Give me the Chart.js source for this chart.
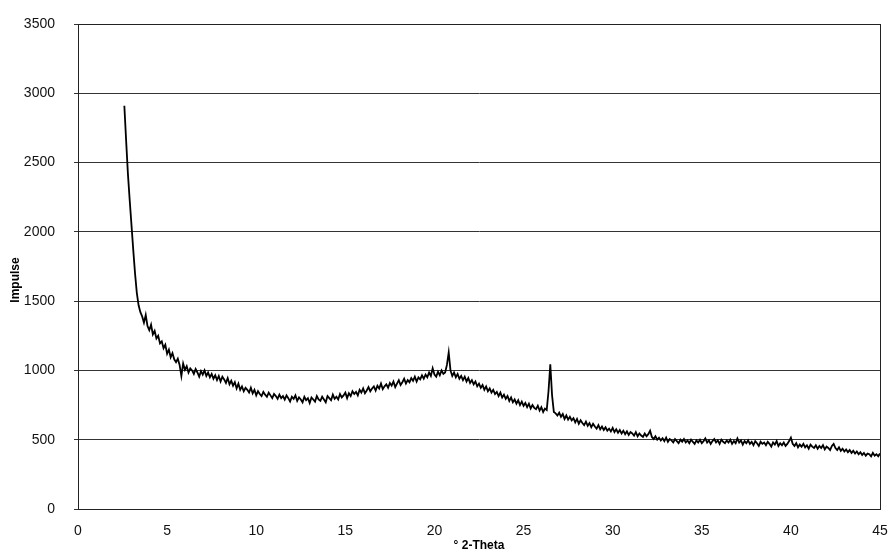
<!DOCTYPE html>
<html>
<head>
<meta charset="utf-8">
<script src="https://cdn.jsdelivr.net/npm/chart.js@4.4.1/dist/chart.umd.min.js"></script>
<style>
  html, body { margin: 0; padding: 0; background: #fff; }
  #wrap { width: 892px; height: 554px; }
</style>
</head>
<body>
<div id="wrap"><canvas id="myChart" width="892" height="554"></canvas></div>
<script>
// 2-theta positions (degrees)
const twoTheta = [
  2.6, 2.7, 2.8, 2.9, 3.0, 3.1, 3.2, 3.3, 3.4, 3.5,
  3.6, 3.7, 3.8, 3.9, 4.0, 4.1, 4.2, 4.3, 4.4, 4.5,
  4.6, 4.7, 4.8, 4.9, 5.0, 5.1, 5.2, 5.3, 5.4, 5.5,
  5.6, 5.7, 5.8, 5.9, 6.0, 6.1, 6.2, 6.3, 6.4, 6.5,
  6.6, 6.7, 6.8, 6.9, 7.0, 7.1, 7.2, 7.3, 7.4, 7.5,
  7.6, 7.7, 7.8, 7.9, 8.0, 8.1, 8.2, 8.3, 8.4, 8.5,
  8.6, 8.7, 8.8, 8.9, 9.0, 9.1, 9.2, 9.3, 9.4, 9.5,
  9.6, 9.7, 9.8, 9.9, 10.0, 10.1, 10.2, 10.3, 10.4, 10.5,
  10.6, 10.7, 10.8, 10.9, 11.0, 11.1, 11.2, 11.3, 11.4, 11.5,
  11.6, 11.7, 11.8, 11.9, 12.0, 12.1, 12.2, 12.3, 12.4, 12.5,
  12.6, 12.7, 12.8, 12.9, 13.0, 13.1, 13.2, 13.3, 13.4, 13.5,
  13.6, 13.7, 13.8, 13.9, 14.0, 14.1, 14.2, 14.3, 14.4, 14.5,
  14.6, 14.7, 14.8, 14.9, 15.0, 15.1, 15.2, 15.3, 15.4, 15.5,
  15.6, 15.7, 15.8, 15.9, 16.0, 16.1, 16.2, 16.3, 16.4, 16.5,
  16.6, 16.7, 16.8, 16.9, 17.0, 17.1, 17.2, 17.3, 17.4, 17.5,
  17.6, 17.7, 17.8, 17.9, 18.0, 18.1, 18.2, 18.3, 18.4, 18.5,
  18.6, 18.7, 18.8, 18.9, 19.0, 19.1, 19.2, 19.3, 19.4, 19.5,
  19.6, 19.7, 19.8, 19.9, 20.0, 20.1, 20.2, 20.3, 20.4, 20.5,
  20.6, 20.7, 20.8, 20.9, 21.0, 21.1, 21.2, 21.3, 21.4, 21.5,
  21.6, 21.7, 21.8, 21.9, 22.0, 22.1, 22.2, 22.3, 22.4, 22.5,
  22.6, 22.7, 22.8, 22.9, 23.0, 23.1, 23.2, 23.3, 23.4, 23.5,
  23.6, 23.7, 23.8, 23.9, 24.0, 24.1, 24.2, 24.3, 24.4, 24.5,
  24.6, 24.7, 24.8, 24.9, 25.0, 25.1, 25.2, 25.3, 25.4, 25.5,
  25.6, 25.7, 25.8, 25.9, 26.0, 26.1, 26.2, 26.3, 26.4, 26.5,
  26.6, 26.7, 26.8, 26.9, 27.0, 27.1, 27.2, 27.3, 27.4, 27.5,
  27.6, 27.7, 27.8, 27.9, 28.0, 28.1, 28.2, 28.3, 28.4, 28.5,
  28.6, 28.7, 28.8, 28.9, 29.0, 29.1, 29.2, 29.3, 29.4, 29.5,
  29.6, 29.7, 29.8, 29.9, 30.0, 30.1, 30.2, 30.3, 30.4, 30.5,
  30.6, 30.7, 30.8, 30.9, 31.0, 31.1, 31.2, 31.3, 31.4, 31.5,
  31.6, 31.7, 31.8, 31.9, 32.0, 32.1, 32.2, 32.3, 32.4, 32.5,
  32.6, 32.7, 32.8, 32.9, 33.0, 33.1, 33.2, 33.3, 33.4, 33.5,
  33.6, 33.7, 33.8, 33.9, 34.0, 34.1, 34.2, 34.3, 34.4, 34.5,
  34.6, 34.7, 34.8, 34.9, 35.0, 35.1, 35.2, 35.3, 35.4, 35.5,
  35.6, 35.7, 35.8, 35.9, 36.0, 36.1, 36.2, 36.3, 36.4, 36.5,
  36.6, 36.7, 36.8, 36.9, 37.0, 37.1, 37.2, 37.3, 37.4, 37.5,
  37.6, 37.7, 37.8, 37.9, 38.0, 38.1, 38.2, 38.3, 38.4, 38.5,
  38.6, 38.7, 38.8, 38.9, 39.0, 39.1, 39.2, 39.3, 39.4, 39.5,
  39.6, 39.7, 39.8, 39.9, 40.0, 40.1, 40.2, 40.3, 40.4, 40.5,
  40.6, 40.7, 40.8, 40.9, 41.0, 41.1, 41.2, 41.3, 41.4, 41.5,
  41.6, 41.7, 41.8, 41.9, 42.0, 42.1, 42.2, 42.3, 42.4, 42.5,
  42.6, 42.7, 42.8, 42.9, 43.0, 43.1, 43.2, 43.3, 43.4, 43.5,
  43.6, 43.7, 43.8, 43.9, 44.0, 44.1, 44.2, 44.3, 44.4, 44.5,
  44.6, 44.7, 44.8, 44.9, 45.0
];

// Intensity (impulse counts)
const impulse = [
  2910, 2660, 2420, 2230, 2050, 1870, 1700, 1560, 1470, 1420,
  1390, 1345, 1400, 1320, 1290, 1330, 1260, 1285, 1230, 1250,
  1195, 1210, 1160, 1185, 1120, 1150, 1095, 1125, 1080, 1060,
  1085, 1040, 960, 1050, 1005, 1030, 985, 1015, 1000, 975,
  1010, 985, 955, 995, 970, 1000, 960, 985, 950, 975,
  940, 965, 930, 960, 920, 955, 935, 910, 945, 900,
  925, 890, 915, 870, 905, 860, 885, 850, 875, 860,
  840, 875, 835, 860, 820, 850, 830, 815, 845, 825,
  810, 840, 820, 800, 830, 815, 795, 825, 800, 815,
  790, 820, 800, 775, 810, 795, 820, 780, 805, 790,
  770, 810, 785, 800, 765, 805, 790, 775, 815, 790,
  780, 810, 790, 770, 815, 800, 785, 825, 795, 810,
  790, 830, 805, 820, 840, 800, 835, 815, 850, 830,
  845, 820, 860, 840, 870, 835, 855, 880, 850, 870,
  885, 855, 890, 870, 905, 865, 885, 900, 875, 910,
  890, 920, 880, 905, 930, 895, 915, 940, 905, 930,
  915, 945, 925, 955, 920, 950, 935, 965, 940, 970,
  950, 985, 960, 1015, 970, 955, 990, 965, 1000, 975,
  985, 1040, 1130, 1000, 960, 985, 950, 975, 940, 960,
  930, 955, 920, 945, 910, 930, 900, 920, 885, 905,
  875, 895, 860, 885, 850, 870, 840, 860, 830, 845,
  815, 840, 805, 825, 795, 815, 780, 805, 770, 790,
  760, 785, 750, 775, 745, 765, 735, 760, 725, 750,
  730, 720, 745, 710, 735, 700, 725, 715, 850, 1045,
  820, 700, 690, 675, 695, 665, 685, 650, 675, 645,
  665, 640, 655, 625, 650, 615, 640, 620, 605, 630,
  600, 620, 590, 615, 595, 580, 605, 575, 595, 570,
  590, 565, 580, 560, 585, 555, 575, 550, 570, 545,
  565, 540, 560, 535, 555, 545, 530, 555, 525, 545,
  530, 520, 545, 525, 540, 565, 520, 505, 525, 500,
  515, 495, 510, 490, 515, 485, 505, 495, 480, 505,
  490, 475, 500, 485, 505, 480, 495, 475, 500, 485,
  470, 495, 480, 500, 475, 490, 510, 480, 495, 470,
  490, 505, 480, 495, 470, 500, 485, 475, 495, 480,
  500, 470, 490, 475, 510, 480, 495, 465, 490, 475,
  495, 470, 485, 460, 490, 475, 455, 485, 470, 480,
  460, 485, 470, 450, 480, 465, 490, 455, 475, 460,
  480, 455, 470, 490, 515, 470, 455, 475, 445, 465,
  450, 470, 445, 460, 435, 465, 450, 440, 460, 435,
  455, 440, 460, 430, 450, 440, 425, 455, 470, 440,
  425, 445, 420, 435, 415, 430, 410, 425, 405, 420,
  400, 415, 395, 410, 390, 405, 385, 400, 395, 380,
  405, 385, 395, 380, 400
];

// Axis settings
const xTicks = [0, 5, 10, 15, 20, 25, 30, 35, 40, 45];
const yTicks = [0, 500, 1000, 1500, 2000, 2500, 3000, 3500];
const xTitle = '° 2-Theta';
const yTitle = 'Impulse';

const points = twoTheta.map((t, i) => ({ x: t, y: impulse[i] }));

// draws the plot frame and the two axis titles where the scan has them
const framePlugin = {
  id: 'frame',
  afterDraw(chart) {
    const { ctx, chartArea: a } = chart;
    ctx.save();
    ctx.strokeStyle = '#222';
    ctx.lineWidth = 1;
    ctx.strokeRect(a.left + 0.5, a.top + 0.5, a.right - a.left, a.bottom - a.top);
    ctx.fillStyle = '#000';
    ctx.font = 'bold 12px "Liberation Sans", Arial, sans-serif';
    ctx.textAlign = 'center';
    ctx.textBaseline = 'middle';
    ctx.fillText(xTitle, (a.left + a.right) / 2, 546);
    ctx.translate(16, 280);
    ctx.rotate(-Math.PI / 2);
    ctx.fillText(yTitle, 0, 0);
    ctx.restore();
  }
};

let myChart;

function createChart() {
  const ctx = document.getElementById('myChart').getContext('2d');
  myChart = new Chart(ctx, {
    type: 'line',
    data: {
      datasets: [{
        data: points,
        borderColor: '#000',
        borderWidth: 1.8,
        pointRadius: 0,
        tension: 0,
        fill: false
      }]
    },
    options: {
      responsive: false,
      animation: false,
      layout: { padding: { left: 0, right: 12, top: 24, bottom: 0 } },
      plugins: { legend: { display: false }, tooltip: { enabled: false } },
      scales: {
        x: {
          type: 'linear',
          min: 0,
          max: 45,
          afterBuildTicks: (scale) => { scale.ticks = xTicks.map(v => ({ value: v })); },
          afterFit: (scale) => {
            scale.height = 45;
            scale.paddingLeft = 0;
            scale.paddingRight = 0;
          },
          grid: { display: false, drawTicks: true, tickLength: 4 },
          border: { color: '#222' },
          ticks: {
            color: '#111',
            padding: 10,
            maxRotation: 0,
            callback: (v) => String(v),
            font: { family: '"Liberation Sans", Arial, sans-serif', size: 14 }
          }
        },
        y: {
          min: 0,
          max: 3500,
          afterBuildTicks: (scale) => { scale.ticks = yTicks.map(v => ({ value: v })); },
          afterFit: (scale) => {
            scale.width = 78;
            scale.paddingTop = 0;
            scale.paddingBottom = 0;
          },
          grid: { color: '#333', lineWidth: 1, tickLength: 4 },
          border: { color: '#222' },
          ticks: {
            color: '#111',
            padding: 19,
            callback: (v) => String(v),
            font: { family: '"Liberation Sans", Arial, sans-serif', size: 14 }
          }
        }
      }
    },
    plugins: [framePlugin]
  });
}

document.addEventListener('DOMContentLoaded', () => {
  createChart();
});
</script>
</body>
</html>
